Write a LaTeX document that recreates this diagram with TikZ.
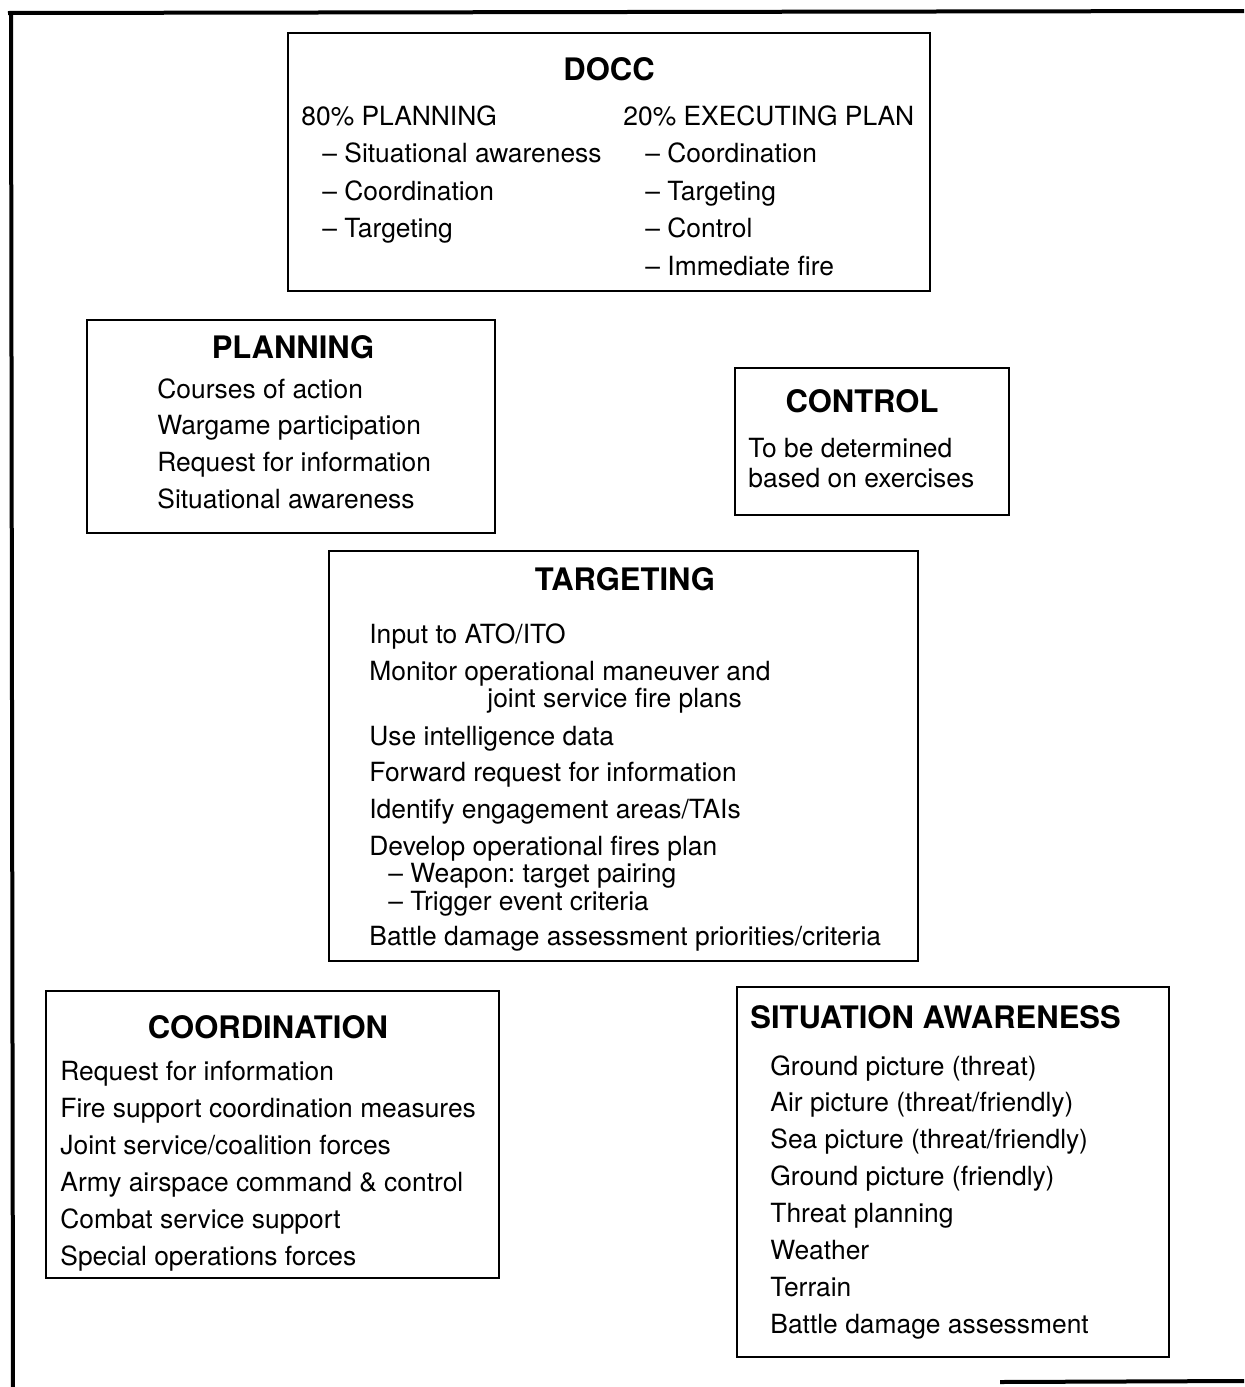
\documentclass[tikz,border=0pt]{standalone}
\usepackage{fontspec}
\setmainfont{TeX Gyre Heros}
\frenchspacing
\tikzset{
  box/.style={draw,line width=1.2pt},
  frameline/.style={line width=2pt},
  head/.style={font=\bfseries\fontsize{15.5}{18}\selectfont,anchor=base,inner sep=0pt},
  item/.style={font=\fontsize{13.2}{15}\selectfont,anchor=base west,inner sep=0pt}
}
\begin{document}
\begin{tikzpicture}[x=0.5pt,y=-0.5pt]
    \useasboundingbox (0,0) rectangle (1244,1387);
    \draw[frameline] (8,13)--(1244,11) (11,13)--(13,1387) (1000,1382)--(1244,1381);
    % DOCC
    \draw[box] (288,33) rectangle (930,291);
    \node[head] (docc) at (609,80) {DOCC};
    \node[item] (doccP) at (301,125) {80\% PLANNING};
    \foreach \t [count=\i] in {Situational awareness,Coordination,Targeting}
        \node[item] (doccP\i) at (322,125+37.5*\i) {-- \t};
    \node[item] (doccE) at (623,125) {20\% EXECUTING PLAN};
    \foreach \t [count=\i] in {Coordination,Targeting,Control,Immediate fire}
        \node[item] (doccE\i) at (645,125+37.5*\i) {-- \t};
    % PLANNING
    \draw[box] (87,320) rectangle (495,533);
    \node[head] (plan) at (293,358) {PLANNING};
    \foreach \t [count=\i from 0] in {Courses of action,Wargame participation,Request for information,Situational awareness}
        \node[item] (plan\i) at (157,398+36.7*\i) {\t};
    % CONTROL
    \draw[box] (735,368) rectangle (1009,515);
    \node[head] (ctrl) at (862,412) {CONTROL};
    \node[item] (ctrl1) at (748,457) {To be determined};
    \node[item] (ctrl2) at (748,487) {based on exercises};
    % TARGETING
    \draw[box] (329,551) rectangle (918,961);
    \node[head] (tgt) at (625,590) {TARGETING};
    \node[item] (tgt1) at (369,643) {Input to ATO/ITO};
    \node[item] (tgt2) at (369,680) {Monitor operational maneuver and};
    \node[item] (tgt2b) at (487,707) {joint service fire plans};
    \node[item] (tgt3) at (369,745) {Use intelligence data};
    \node[item] (tgt4) at (369,781) {Forward request for information};
    \node[item] (tgt5) at (369,818) {Identify engagement areas/TAIs};
    \node[item] (tgt6) at (369,855) {Develop operational fires plan};
    \node[item] (tgt6a) at (388,882) {-- Weapon: target pairing};
    \node[item] (tgt6b) at (388,910) {-- Trigger event criteria};
    \node[item] (tgt7) at (369,945) {Battle damage assessment priorities/criteria};
    % COORDINATION
    \draw[box] (46,991) rectangle (499,1278);
    \node[head] (coord) at (268,1038) {COORDINATION};
    \foreach \t [count=\i from 0] in {Request for information,Fire support coordination measures,Joint service/coalition forces,Army airspace command \& control,Combat service support,Special operations forces}
        \node[item] (coord\i) at (60,1080+37*\i) {\t};
    % SITUATION AWARENESS
    \draw[box] (737,987) rectangle (1169,1357);
    \node[head,anchor=base west] (sit) at (750,1028) {SITUATION AWARENESS};
    \foreach \t [count=\i from 0] in {Ground picture (threat),Air picture (threat/friendly),Sea picture (threat/friendly),Ground picture (friendly),Threat planning,Weather,Terrain,Battle damage assessment}
        \node[item] (sit\i) at (770,1075+36.9*\i) {\t};
\end{tikzpicture}
\end{document}
